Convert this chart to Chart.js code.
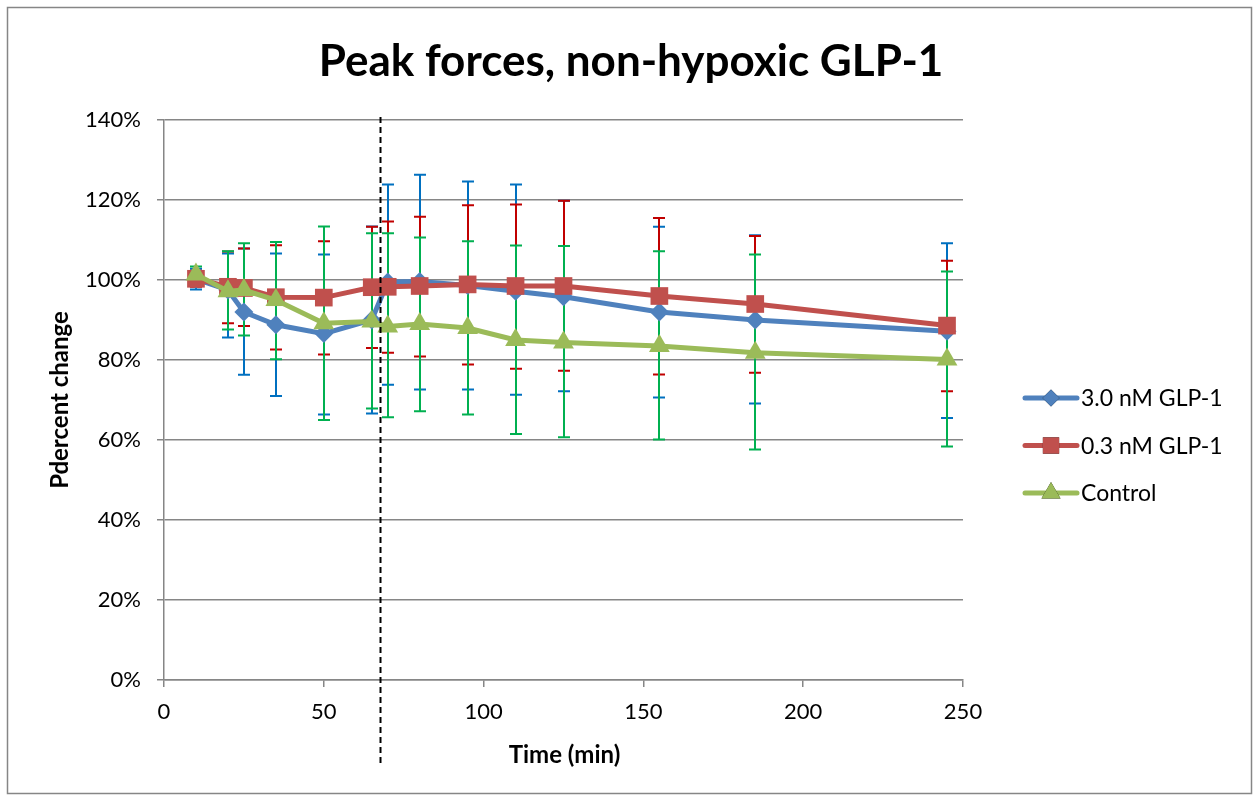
<!DOCTYPE html>
<html>
<head>
<meta charset="UTF-8">
<title>Peak forces, non-hypoxic GLP-1</title>
<script src="https://cdn.jsdelivr.net/npm/chart.js"></script>
<style>
    html, body { margin: 0; padding: 0; background: #fff; }
    #wrap { width: 1259px; height: 800px; position: relative; }
</style>
</head>
<body>
<div id="wrap"><canvas id="grafico"></canvas></div>
<script>
    // tiempos de medida (min)
    const tiempos = [10, 20, 25, 35, 50, 65, 70, 80, 95, 110, 125, 155, 185, 245];

    // cambio porcentual medio por serie
    const glp30 = [100.2, 97.5, 92, 88.8, 86.6, 90, 99.5, 99.6, 98.6, 97.2, 95.8, 92, 90, 87.2];
    const glp03 = [100.3, 98.3, 98, 95.7, 95.6, 98.2, 98.3, 98.5, 98.9, 98.5, 98.5, 96, 94, 88.6];
    const control = [101.4, 97.2, 97.5, 95, 89.2, 89.6, 88.4, 89, 88, 85, 84.4, 83.5, 81.8, 80.1];

    // extremos de las barras de error (límite superior / inferior)
    const glp30Sup = [102.8, 106.6, 107.9, 106.6, 106.4, 113.4, 123.9, 126.3, 124.6, 123.9, 119.8, 113.3, 111.2, 109.2];
    const glp30Inf = [97.6, 85.6, 76.3, 71, 66.4, 66.6, 73.8, 72.6, 72.6, 71.3, 72.2, 70.6, 69.1, 65.5];
    const glp03Sup = [102.3, 107.1, 107.9, 108.7, 109.7, 113.3, 114.6, 115.8, 118.7, 118.9, 119.8, 115.5, 111, 104.8];
    const glp03Inf = [98.3, 89.2, 88.5, 82.6, 81.4, 83, 81.8, 80.9, 78.9, 77.8, 77.3, 76.4, 76.8, 72.2];
    const controlSup = [103.4, 107.2, 109.2, 109.5, 113.4, 111.7, 111.7, 110.6, 109.7, 108.6, 108.5, 107.2, 106.4, 102.1];
    const controlInf = [99.8, 87.6, 86.1, 80.2, 65, 67.9, 65.7, 67.2, 66.4, 61.5, 60.7, 60.1, 57.6, 58.4];

    const marcaVertical = 67.5;

    const fuente = 'Lato, "Open Sans", sans-serif';
    const gris = '#868686';

    const series = [
        { nombre: '3.0 nM GLP-1', valores: glp30, sup: glp30Sup, inf: glp30Inf, linea: '#4F81BD', error: '#0070C0', punto: 'rectRot', radio: 9.5 },
        { nombre: '0.3 nM GLP-1', valores: glp03, sup: glp03Sup, inf: glp03Inf, linea: '#C0504D', error: '#C00000', punto: 'rect', radio: 12.5 },
        { nombre: 'Control', valores: control, sup: controlSup, inf: controlInf, linea: '#9BBB59', error: '#00B050', punto: 'triangle', radio: 12 }
    ];

    // barras de error, línea discontinua y textos
    const extras = {
        id: 'extras',
        beforeDraw(chart) {
            const ctx = chart.ctx;
            ctx.save();
            ctx.fillStyle = '#fff';
            ctx.fillRect(0, 0, chart.width, chart.height);
            ctx.strokeStyle = gris;
            ctx.lineWidth = 1.5;
            ctx.strokeRect(7.5, 7.5, chart.width - 15, chart.height - 14);
            ctx.restore();
        },
        beforeDatasetsDraw(chart) {
            const ctx = chart.ctx;
            const x = chart.scales.x, y = chart.scales.y;
            ctx.save();
            ctx.lineWidth = 2;
            series.forEach(s => {
                ctx.strokeStyle = s.error;
                tiempos.forEach((t, i) => {
                    const px = Math.round(x.getPixelForValue(t));
                    const y1 = y.getPixelForValue(s.sup[i]);
                    const y2 = y.getPixelForValue(s.inf[i]);
                    ctx.beginPath();
                    ctx.moveTo(px, y1); ctx.lineTo(px, y2);
                    ctx.moveTo(px - 6, y1); ctx.lineTo(px + 6, y1);
                    ctx.moveTo(px - 6, y2); ctx.lineTo(px + 6, y2);
                    ctx.stroke();
                });
            });
            ctx.restore();
        },
        afterDatasetsDraw(chart) {
            const ctx = chart.ctx;
            const x = chart.scales.x;
            const area = chart.chartArea;
            ctx.save();
            // línea discontinua
            const px = Math.round(x.getPixelForValue(marcaVertical)) + 0.5;
            ctx.strokeStyle = '#000';
            ctx.lineWidth = 2;
            ctx.setLineDash([6, 4]);
            ctx.beginPath();
            ctx.moveTo(px, area.top - 3);
            ctx.lineTo(px, 766);
            ctx.stroke();
            ctx.setLineDash([]);

            // título
            ctx.fillStyle = '#000';
            ctx.textAlign = 'center';
            ctx.textBaseline = 'middle';
            ctx.font = 'bold 44px ' + fuente;
            ctx.fillText('Peak forces, non-hypoxic GLP-1', 631, 62);

            // títulos de ejes
            ctx.font = 'bold 24px ' + fuente;
            ctx.fillText('Time (min)', (area.left + area.right) / 2 + 1, 755);
            ctx.save();
            ctx.translate(60, (area.top + area.bottom) / 2);
            ctx.rotate(-Math.PI / 2);
            ctx.fillText('Pdercent change', 0, 0);
            ctx.restore();

            // leyenda
            ctx.textAlign = 'left';
            ctx.font = '23px ' + fuente;
            series.forEach((s, i) => {
                const ly = 398 + i * 47.5;
                ctx.strokeStyle = s.linea;
                ctx.lineWidth = 5;
                ctx.lineCap = 'round';
                ctx.beginPath();
                ctx.moveTo(1025, ly); ctx.lineTo(1077, ly);
                ctx.stroke();
                Chart.helpers.drawPoint(ctx, {
                    pointStyle: s.punto, radius: s.radio - 1, rotation: 0, borderWidth: 0
                }, 1051, ly);
                ctx.fillStyle = s.linea;
                ctx.fill();
                ctx.fillStyle = '#000';
                ctx.fillText(s.nombre, 1081, ly + 1);
            });
            ctx.restore();
        }
    };

    new Chart(document.getElementById('grafico'), {
        type: 'line',
        data: {
            datasets: series.map((s, i) => ({
                label: s.nombre,
                data: tiempos.map((t, j) => ({ x: t, y: s.valores[j] })),
                borderColor: s.linea,
                backgroundColor: s.linea,
                borderWidth: 5,
                pointStyle: s.punto,
                pointRadius: s.radio,
                pointBorderWidth: 0,
                tension: 0,
                order: 2 - i
            }))
        },
        options: {
            responsive: true,
            maintainAspectRatio: false,
            animation: false,
            events: [],
            layout: { padding: { top: 120, right: 296, left: 0, bottom: 0 } },
            plugins: { legend: { display: false }, tooltip: { enabled: false } },
            scales: {
                x: {
                    type: 'linear',
                    min: 0, max: 250,
                    afterFit(scale) { scale.height = 120; },
                    ticks: { stepSize: 50, color: '#000', font: { family: fuente, size: 22 }, padding: 12 },
                    grid: { color: 'transparent', tickColor: gris, tickLength: 7, lineWidth: 1.5 },
                    border: { color: gris, width: 1.5 }
                },
                y: {
                    min: 0, max: 140,
                    afterFit(scale) { scale.width = 164; },
                    ticks: {
                        stepSize: 20, color: '#000', padding: 16,
                        font: { family: fuente, size: 22 },
                        callback: v => v + '%'
                    },
                    grid: { color: gris, tickColor: gris, tickLength: 7, lineWidth: 1.5 },
                    border: { color: gris, width: 1.5 }
                }
            }
        },
        plugins: [extras]
    });
</script>
</body>
</html>
